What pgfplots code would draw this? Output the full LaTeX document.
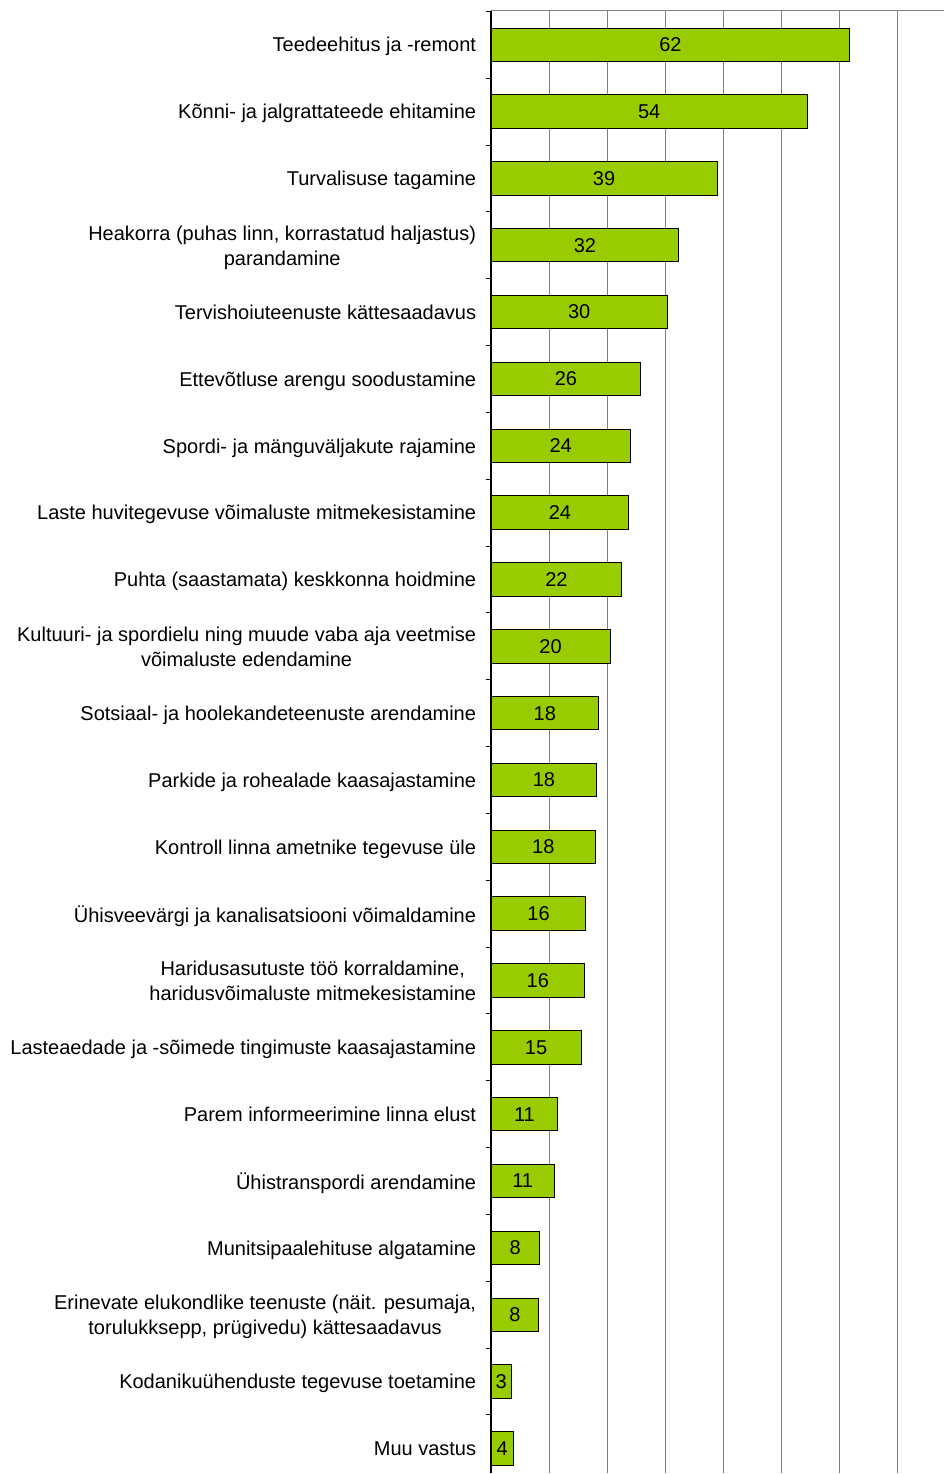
\documentclass[border=0pt]{standalone}
\usepackage{fontspec}
\setmainfont{Liberation Sans}
\usepackage{pgfplots}
\usepackage{pgfplotstable}
\pgfplotsset{compat=1.18}
\definecolor{bargreen}{HTML}{99CC00}
\definecolor{gridgray}{HTML}{808080}

% y = position (top category highest), v = bar length, lbl = printed value
\pgfplotstableread{
y  v      lbl
21 61.8   62
20 54.5   54
19 38.95  39
18 32.35  32
17 30.35  30
16 25.8   26
15 24.0   24
14 23.75  24
13 22.5   22
12 20.5   20
11 18.5   18
10 18.2   18
9  18.0   18
8  16.35  16
7  16.1   16
6  15.5   15
5  11.5   11
4  10.9   11
3  8.3    8
2  8.25   8
1  3.5    3
0  3.8    4
}\datatable

\begin{document}
\begin{tikzpicture}
\begin{axis}[
    scale only axis,
    width=226.5pt, height=731.7pt,
    xmin=0, xmax=78,
    ymin=-0.374, ymax=21.51,
    bar width=0.5,
    axis x line*=top,
    axis y line*=left,
    x axis line style={gridgray, line width=0.6pt},
    y axis line style={black, line width=0.6pt},
    xtick={0,10,...,70},
    xticklabel=\empty,
    xticklabel style={overlay},
    x tick style={draw=none},
    xmajorgrids,
    grid style={gridgray, line width=0.6pt},
    ytick={0,...,21},
    minor ytick={-0.5,0.5,...,21.5},
    tick align=outside,
    major tick length=0pt,
    minor tick length=2.75pt,
    every minor y tick/.style={black, line width=0.5pt},
    yticklabel style={font=\fontsize{10}{12.5}\selectfont, align=center, inner sep=0pt,
        text depth=0pt, xshift=-7.3pt},
    yticklabels={
        Muu vastus,
        Kodanikuühenduste tegevuse toetamine,
        {Erinevate elukondlike teenuste (näit. pesumaja,\\torulukksepp, prügivedu) kättesaadavus},
        Munitsipaalehituse algatamine,
        Ühistranspordi arendamine,
        Parem informeerimine linna elust,
        Lasteaedade ja -sõimede tingimuste kaasajastamine,
        {Haridusasutuste töö korraldamine,\\haridusvõimaluste mitmekesistamine},
        Ühisveevärgi ja kanalisatsiooni võimaldamine,
        Kontroll linna ametnike tegevuse üle,
        Parkide ja rohealade kaasajastamine,
        Sotsiaal- ja hoolekandeteenuste arendamine,
        {Kultuuri- ja spordielu ning muude vaba aja veetmise\\võimaluste edendamine},
        Puhta (saastamata) keskkonna hoidmine,
        Laste huvitegevuse võimaluste mitmekesistamine,
        Spordi- ja mänguväljakute rajamine,
        Ettevõtluse arengu soodustamine,
        Tervishoiuteenuste kättesaadavus,
        {Heakorra (puhas linn, korrastatud haljastus)\\parandamine},
        Turvalisuse tagamine,
        Kõnni- ja jalgrattateede ehitamine,
        Teedeehitus ja -remont
    },
]
\addplot[xbar, fill=bargreen, draw=black, line width=0.5pt]
    table[x=v, y=y] {\datatable};
\addplot[draw=none, mark=none, nodes near coords, point meta=explicit symbolic,
    nodes near coords style={anchor=center, inner sep=0pt, font=\fontsize{10}{12}\selectfont}]
    table[x expr=\thisrow{v}/2, y=y, meta=lbl] {\datatable};
\end{axis}
\path (current axis.north west) ++(-245.65pt,5.35pt);
\end{tikzpicture}
\end{document}
